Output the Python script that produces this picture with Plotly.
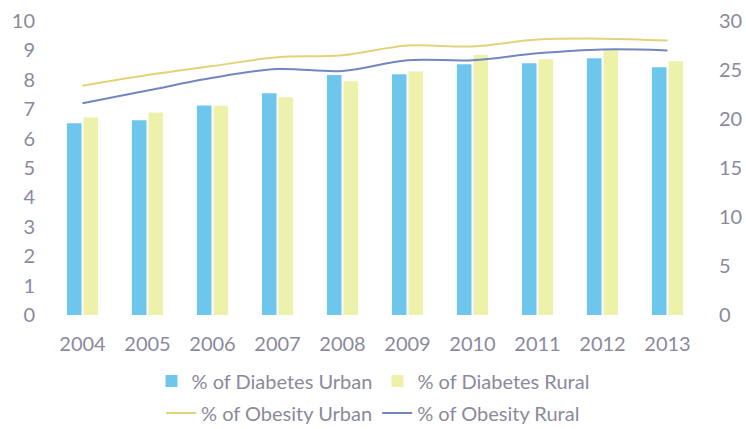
import plotly.graph_objects as go

years = ["2004", "2005", "2006", "2007", "2008", "2009", "2010", "2011", "2012", "2013"]
diabetes_urban = [6.52, 6.62, 7.13, 7.54, 8.16, 8.19, 8.53, 8.56, 8.73, 8.43]
diabetes_rural = [6.72, 6.89, 7.12, 7.41, 7.95, 8.28, 8.85, 8.70, 9.04, 8.63]
obesity_urban = [23.4, 24.5, 25.4, 26.3, 26.5, 27.5, 27.4, 28.1, 28.2, 28.0]
obesity_rural = [21.6, 22.9, 24.2, 25.1, 24.9, 26.0, 26.0, 26.7, 27.1, 27.0]

text_color = "#8a8a9c"
font_family = "Lato, 'Open Sans', sans-serif"

fig = go.Figure()
fig.add_trace(go.Bar(x=years, y=diabetes_urban, name="% of Diabetes Urban",
                     marker=dict(color="#6ec6ec", line=dict(width=0)), legend="legend"))
fig.add_trace(go.Bar(x=years, y=diabetes_rural, name="% of Diabetes Rural",
                     marker=dict(color="#edf1aa", line=dict(width=0)), legend="legend"))
fig.add_trace(go.Scatter(x=years, y=obesity_urban, name="% of Obesity Urban", yaxis="y2",
                         mode="lines", line=dict(color="#e2d27a", width=2, shape="spline"),
                         legend="legend2"))
fig.add_trace(go.Scatter(x=years, y=obesity_rural, name="% of Obesity Rural", yaxis="y2",
                         mode="lines", line=dict(color="#7486c0", width=2, shape="spline"),
                         legend="legend2"))

fig.update_layout(
    width=746, height=429,
    margin=dict(l=50, r=46, t=21, b=114, autoexpand=False),
    paper_bgcolor="white", plot_bgcolor="white",
    font=dict(family=font_family, color=text_color, size=19),
    barmode="group", bargap=0.49, bargroupgap=0.12,
    xaxis=dict(showgrid=False, zeroline=False, showline=False, ticks="", automargin=False,
               tickfont=dict(size=20, color=text_color), ticklabelstandoff=15),
    yaxis=dict(range=[0, 10], dtick=1, showgrid=False, zeroline=False, showline=False,
               automargin=False,
               tickfont=dict(size=20, color=text_color), ticklabelstandoff=14),
    yaxis2=dict(range=[0, 30], dtick=5, overlaying="y", side="right", showgrid=False,
                zeroline=False, showline=False, automargin=False,
                tickfont=dict(size=20, color=text_color), ticklabelstandoff=18),
    legend=dict(orientation="h", x=0.5, xanchor="center", xref="container",
                y=1 - 381 / 429, yanchor="middle", yref="container",
                font=dict(size=20, color=text_color), itemwidth=30,
                bgcolor="rgba(0,0,0,0)", traceorder="normal"),
    legend2=dict(orientation="h", x=0.5, xanchor="center", xref="container",
                 y=1 - 413 / 429, yanchor="middle", yref="container",
                 font=dict(size=20, color=text_color), itemwidth=30,
                 bgcolor="rgba(0,0,0,0)", traceorder="normal"),
    showlegend=True,
)

fig.write_html("out.html", config={"displayModeBar": False},
               post_script="document.body.style.margin='0';")
